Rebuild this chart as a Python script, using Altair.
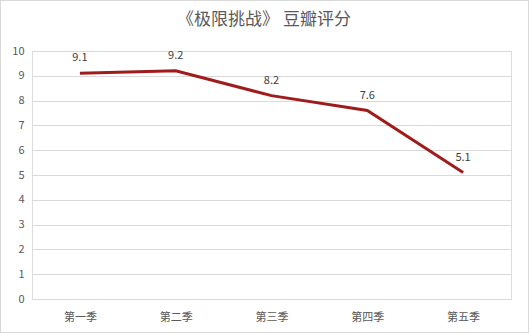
import altair as alt
import pandas as pd

title_text = "《极限挑战》 豆瓣评分"
seasons = ["第一季", "第二季", "第三季", "第四季", "第五季"]
scores = [9.1, 9.2, 8.2, 7.6, 5.1]
y_ticks = [0, 1, 2, 3, 4, 5, 6, 7, 8, 9, 10]

df = pd.DataFrame({"season": seasons, "score": scores})
tdf = pd.DataFrame({"t": [title_text]})

FONT = "Noto Sans CJK SC"
W, H = 479, 248

x = alt.X("season:N", sort=seasons, scale=alt.Scale(type="point", padding=0.5),
          axis=alt.Axis(title=None, labelAngle=0, ticks=False, domain=False,
                        labelColor="#595959", labelFontSize=11, labelFont=FONT,
                        labelPadding=12))
y = alt.Y("score:Q", scale=alt.Scale(domain=[0, 10], nice=False),
          axis=alt.Axis(title=None, values=y_ticks, ticks=False, domain=False,
                        gridColor="#D9D9D9", gridWidth=1, labelColor="#595959",
                        labelFontSize=11, labelFont=FONT, labelPadding=8))

line = alt.Chart(df).mark_line(color="#A01C1C", strokeWidth=3, strokeCap="butt").encode(x=x, y=y)
labels = alt.Chart(df).mark_text(baseline="bottom", dy=-10, fontSize=11, font=FONT,
                                 color="#404040").encode(x=x, y=y, text=alt.Text("score:Q", format=".1f"))
frame = alt.Chart(df).mark_rect(fill=None, stroke="#D9D9D9", strokeWidth=1).encode(
    x=alt.value(-31.5), x2=alt.value(W + 17.5), y=alt.value(-50.5), y2=alt.value(H + 33.5))
title = alt.Chart(tdf).mark_text(fontSize=17, font=FONT, color="#595959", baseline="middle",
                                 align="center").encode(
    x=alt.value(232), y=alt.value(-31), text="t:N")

chart = alt.layer(frame, line, labels, title).properties(
    width=W, height=H,
    padding={"left": 32, "top": 51, "right": 18, "bottom": 34},
    autosize=alt.AutoSizeParams(type="none"),
).configure_view(stroke=None).configure(background="white")

chart.save("out.html", embed_options={"renderer": "svg", "actions": False})
